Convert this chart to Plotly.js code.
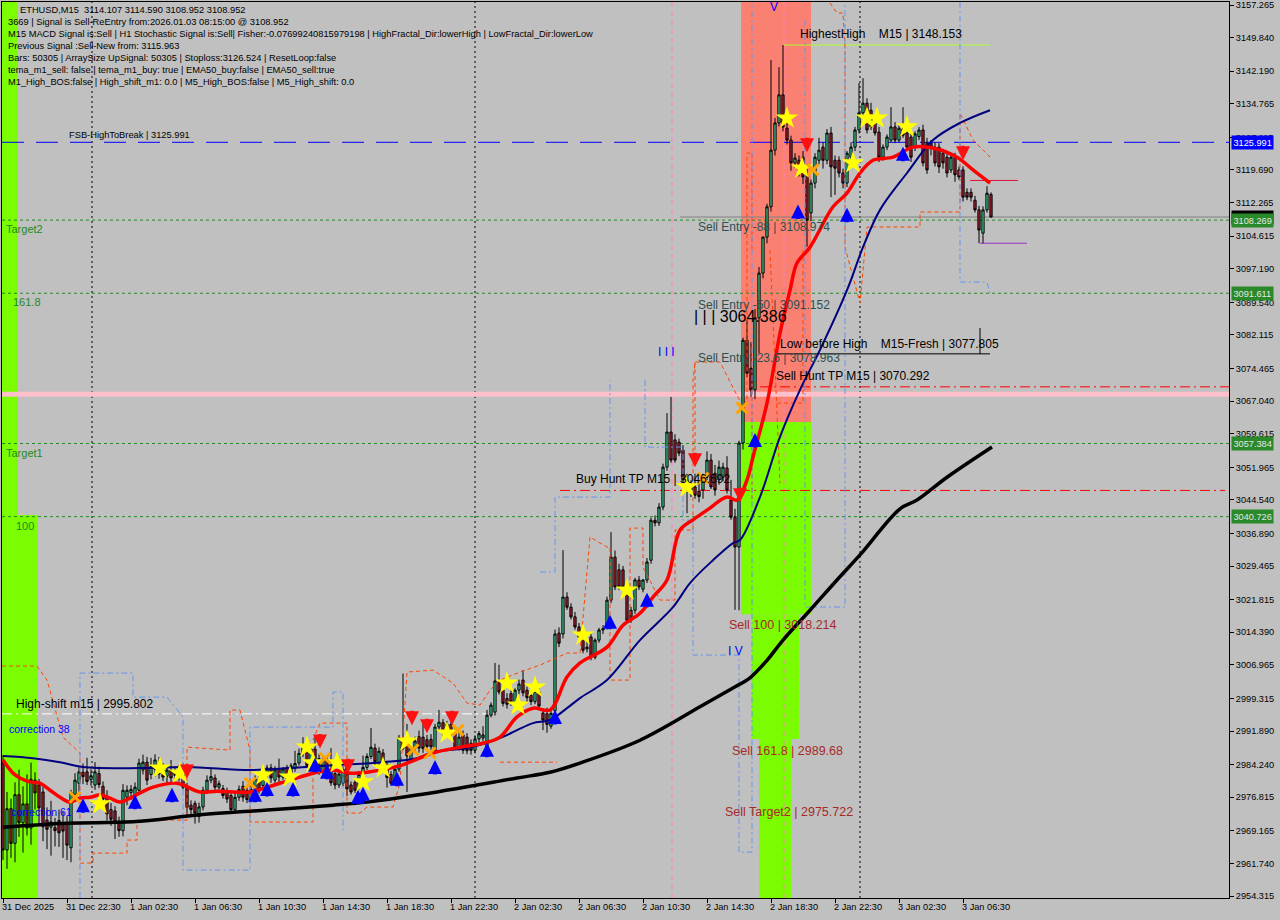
<!DOCTYPE html>
<html><head><meta charset="utf-8">
<script src="https://cdn.plot.ly/plotly-3.0.1.min.js"></script>
<style>html,body{margin:0;padding:0;background:#c0c0c0;}#chart{width:1280px;height:920px;}</style>
</head><body><div id="chart"></div>
<script>
// ===== DATA =====
const barOpen = [
2984.6,2964.8,2974.2,2966.3,2977.4,2971.0,2975.3,2969.8,2980.7,2979.6,
2978.0,2971.6,2970.0,2969.9,2971.5,2970.6,2970.8,2965.3,2977.5,2980.0,
2982.5,2982.6,2980.8,2979.6,2982.2,2979.3,2977.0,2974.0,2973.7,2971.0,
2969.2,2976.8,2977.9,2976.9,2978.4,2983.0,2984.8,2982.0,2983.2,2983.5,
2983.0,2981.6,2983.0,2982.4,2981.8,2983.0,2979.3,2975.0,2975.4,2972.4,
2974.6,2978.4,2980.7,2981.2,2979.1,2978.8,2978.2,2977.2,2974.0,2976.8,
2979.3,2978.4,2976.1,2978.6,2981.0,2979.5,2982.0,2983.5,2980.7,2983.3,
2981.4,2983.6,2980.9,2983.4,2984.6,2986.8,2988.2,2984.6,2987.8,2985.6,
2982.5,2985.3,2983.0,2982.2,2979.6,2980.0,2983.5,2979.6,2980.2,2979.0,
2982.0,2983.6,2986.1,2988.0,2984.7,2986.9,2984.3,2982.0,2980.4,2983.2,
2990.1,2988.6,2985.2,2988.0,2990.6,2990.5,2989.9,2990.0,2987.5,2992.8,
2993.8,2991.0,2993.4,2991.6,2988.2,2991.0,2990.5,2989.1,2987.5,2990.1,
2990.3,2988.0,2995.5,2996.2,3003.1,3001.2,2999.3,3000.4,2998.2,3001.2,
3003.5,3001.2,3000.0,2998.6,3000.9,2996.0,2995.8,2993.0,2996.5,3014.2,
3014.0,3022.4,3020.1,3017.9,3015.6,3013.3,3010.6,3013.3,3008.7,3012.6,
3014.9,3015.6,3021.7,3031.5,3028.6,3028.6,3024.7,3019.4,3019.4,3026.3,
3024.2,3026.3,3030.8,3039.9,3039.3,3042.9,3052.0,3060.0,3058.2,3057.7,
3055.9,3049.1,3046.8,3047.5,3046.5,3046.8,3049.7,3053.6,3050.6,3049.1,
3049.7,3051.8,3044.5,3040.6,3033.8,3057.5,3080.9,3074.5,3069.6,3086.0,
3096.2,3104.4,3111.3,3124.2,3130.4,3136.8,3129.2,3126.5,3121.3,3121.9,
3122.6,3119.0,3109.9,3116.7,3121.9,3124.9,3121.9,3128.1,3121.9,3121.9,
3119.0,3116.7,3122.6,3124.9,3128.8,3132.7,3134.9,3133.3,3130.4,3128.3,
3122.6,3124.9,3126.5,3129.5,3126.5,3129.0,3128.1,3127.2,3124.9,3127.3,
3128.8,3125.8,3125.8,3124.9,3124.9,3123.5,3122.6,3119.7,3122.6,3119.7,
3119.7,3114.6,3114.6,3112.8,3110.6,3105.3,3110.6,3114.107];
const barHigh = [
2986.4,2978.0,2976.5,2980.2,2983.1,2979.3,2982.0,2984.7,2982.5,2981.0,
2979.2,2974.5,2976.0,2972.1,2974.0,2973.6,2972.5,2978.5,2982.3,2984.0,
2984.5,2985.8,2983.2,2984.8,2983.8,2980.4,2978.4,2975.5,2974.8,2972.4,
2979.8,2979.5,2979.6,2980.2,2985.6,2986.5,2986.0,2985.8,2986.6,2986.0,
2984.6,2984.0,2985.3,2983.8,2984.2,2984.5,2980.1,2976.1,2976.0,2975.6,
2979.2,2981.8,2983.4,2982.0,2980.6,2979.6,2979.0,2978.0,2977.8,2979.5,
2980.5,2979.2,2979.4,2981.8,2981.9,2983.2,2984.2,2984.4,2983.9,2985.6,
2983.7,2984.2,2984.6,2987.4,2987.9,2990.5,2989.0,2988.8,2990.5,2986.6,
2986.1,2986.0,2988.0,2983.0,2982.9,2983.9,2984.3,2980.4,2981.0,2982.8,
2986.3,2986.8,2992.6,2989.0,2988.2,2987.8,2985.0,2982.8,2984.0,2991.0,
3005.0,2993.5,2988.9,2990.6,2992.0,2993.8,2991.0,2991.2,2993.5,2996.7,
2994.6,2994.2,2994.4,2992.5,2991.6,2992.0,2991.4,2990.0,2990.9,2991.9,
2993.0,2996.7,2998.4,3007.4,3007.0,3002.0,3000.5,3001.8,3001.6,3003.6,
3005.8,3002.0,3001.0,3002.0,3002.3,2997.0,2997.2,2996.6,3015.0,3015.5,
3033.1,3023.5,3021.0,3019.0,3016.5,3014.5,3012.5,3014.0,3013.0,3015.4,
3016.0,3022.5,3037.2,3033.0,3030.0,3029.5,3025.8,3020.2,3026.8,3027.2,
3026.5,3031.3,3040.5,3041.0,3043.8,3052.8,3064.3,3068.0,3059.5,3058.5,
3057.0,3050.5,3049.0,3050.5,3049.0,3050.5,3055.6,3055.0,3052.5,3053.5,
3053.0,3054.5,3049.1,3042.5,3058.0,3081.5,3085.5,3080.5,3088.0,3097.6,
3104.5,3112.0,3144.7,3131.5,3143.1,3148.153,3131.0,3127.5,3123.5,3123.0,
3124.0,3121.0,3117.5,3123.5,3127.0,3126.0,3129.0,3129.5,3123.0,3122.8,
3120.0,3124.0,3126.0,3129.5,3139.5,3140.6,3136.0,3135.0,3131.5,3129.5,
3125.5,3127.8,3134.0,3130.6,3130.0,3134.0,3129.0,3128.0,3128.5,3129.5,
3130.0,3127.0,3126.5,3126.0,3125.8,3124.5,3123.5,3123.5,3123.6,3120.5,
3120.5,3115.5,3115.5,3113.8,3111.5,3111.4,3116.0,3114.590];
const barLow = [
2962.5,2960.5,2963.0,2962.0,2967.8,2964.2,2968.1,2966.0,2974.0,2970.5,
2966.8,2965.0,2963.5,2965.6,2965.5,2963.0,2962.5,2962.0,2976.0,2978.0,
2979.8,2979.6,2979.4,2978.5,2978.9,2975.6,2971.5,2970.3,2967.3,2967.8,
2967.9,2975.0,2976.2,2975.8,2977.3,2982.0,2979.6,2980.9,2981.5,2981.0,
2980.5,2980.0,2980.2,2980.9,2980.4,2978.6,2972.8,2972.5,2970.8,2971.0,
2973.8,2977.6,2980.0,2978.0,2978.2,2976.5,2975.5,2973.2,2973.3,2976.0,
2975.8,2975.5,2975.6,2978.0,2977.6,2979.0,2981.0,2980.1,2980.0,2980.2,
2980.8,2980.0,2980.3,2982.6,2984.0,2986.0,2983.7,2983.9,2983.2,2981.9,
2982.0,2980.9,2979.4,2978.6,2978.9,2979.3,2977.1,2977.4,2977.8,2978.5,
2981.6,2983.0,2985.5,2984.0,2984.1,2983.5,2979.0,2979.6,2979.8,2982.6,
2987.5,2978.0,2984.6,2987.2,2987.0,2986.9,2988.0,2987.6,2987.0,2992.0,
2990.6,2990.4,2990.2,2987.6,2987.4,2986.7,2986.6,2986.5,2986.8,2989.3,
2989.5,2987.1,2995.0,2995.4,3000.2,2997.5,2997.0,2997.6,2997.4,3000.3,
2999.8,2998.5,2997.8,2998.0,2996.9,2992.1,2991.5,2992.4,2995.5,3011.0,
3013.0,3019.5,3017.3,3015.0,3012.5,3009.6,3009.8,3008.0,3008.2,3012.0,
3014.0,3015.0,3021.0,3024.0,3024.0,3024.2,3016.5,3016.5,3018.6,3024.0,
3023.5,3025.6,3030.0,3038.5,3038.6,3042.2,3051.2,3053.0,3053.0,3054.5,
3048.5,3041.5,3045.2,3044.8,3044.0,3044.8,3049.0,3047.0,3045.5,3048.0,
3048.8,3046.0,3040.0,3019.5,3019.4,3056.0,3072.5,3068.0,3067.5,3078.0,
3095.0,3103.0,3110.2,3123.0,3129.6,3128.5,3125.5,3119.5,3120.2,3118.2,
3116.5,3102.2,3108.0,3115.5,3121.0,3120.0,3121.0,3113.5,3114.0,3118.0,
3115.5,3115.8,3122.0,3124.0,3128.0,3131.8,3128.0,3128.8,3127.5,3121.5,
3121.8,3124.2,3126.0,3125.8,3126.0,3127.0,3124.5,3121.5,3124.0,3126.5,
3120.5,3118.8,3123.0,3120.5,3119.0,3120.0,3118.0,3119.0,3117.0,3117.4,
3112.5,3112.8,3112.5,3110.0,3103.0,3103.0,3110.0,3108.952];
const barClose = [
2964.8,2974.2,2966.3,2977.4,2971.0,2975.3,2969.8,2980.9,2977.8,2974.4,
2970.1,2969.5,2971.2,2969.2,2968.7,2969.1,2965.9,2977.9,2980.7,2982.6,
2981.5,2980.4,2981.7,2982.6,2979.7,2976.4,2973.0,2971.8,2971.2,2969.2,
2978.4,2978.4,2978.6,2979.1,2984.6,2984.8,2980.7,2983.8,2985.3,2982.1,
2981.4,2983.0,2981.2,2981.8,2983.1,2979.1,2974.5,2974.0,2973.2,2974.6,
2978.4,2980.7,2981.5,2979.1,2979.9,2977.2,2976.4,2974.0,2976.8,2978.6,
2976.8,2976.3,2978.6,2981.0,2978.6,2982.5,2983.5,2981.2,2983.0,2981.4,
2983.2,2980.9,2984.0,2984.5,2986.8,2988.2,2984.0,2987.8,2984.1,2983.2,
2985.3,2981.7,2980.1,2979.6,2982.1,2983.2,2978.7,2978.0,2978.4,2982.0,
2983.6,2986.1,2988.2,2984.9,2987.3,2984.4,2981.3,2980.0,2983.2,2990.4,
2988.0,2986.2,2988.0,2989.6,2988.0,2987.9,2988.4,2988.3,2992.8,2993.9,
2991.3,2993.4,2991.1,2988.2,2990.5,2987.5,2987.4,2987.5,2990.1,2991.3,
2991.0,2995.5,2997.8,3003.3,3000.8,2998.2,2998.0,2998.5,3001.2,3002.6,
3000.6,2999.5,2998.6,3000.9,2997.6,2994.4,2993.4,2995.9,3014.0,3011.9,
3022.4,3020.1,3017.9,3015.6,3013.3,3010.3,3011.0,3008.7,3012.6,3014.9,
3015.2,3021.7,3031.5,3024.7,3024.7,3024.7,3017.1,3017.1,3026.3,3024.7,
3026.3,3030.4,3039.9,3039.3,3042.9,3052.0,3060.0,3053.6,3053.6,3055.2,
3049.1,3046.8,3047.5,3045.6,3045.3,3049.7,3053.6,3047.5,3046.8,3052.0,
3052.0,3046.8,3040.6,3033.8,3057.5,3080.9,3073.4,3069.6,3086.0,3096.2,
3104.4,3111.3,3124.2,3130.4,3136.8,3129.5,3126.5,3121.3,3122.4,3119.0,
3118.1,3108.3,3116.7,3122.6,3124.2,3121.9,3128.1,3120.4,3120.1,3119.0,
3116.7,3123.5,3124.9,3128.8,3132.7,3134.9,3128.8,3129.5,3128.1,3122.6,
3124.9,3127.2,3129.5,3126.5,3129.2,3127.6,3124.9,3122.6,3127.9,3128.8,
3121.3,3119.7,3124.9,3121.3,3120.4,3121.3,3119.0,3122.6,3118.6,3118.1,
3113.5,3113.5,3113.5,3110.6,3106.0,3110.6,3114.4,3108.952];

// moving averages (bar index, price)
const redMaBar = [0,2.5,4.25,6.75,9.25,11.75,14.25,16.75,19.25,21.75,24.25,26.75,29.25,31.75,34.25,37.5,43.5,49.25,53.5,61.75,66,71.75,78.5,82.5,86.75,91,99.25,107.5,114.25,120,124.25,128.5,132.5,136.75,141,144.25,151,155,159.25,162.5,166,169.25,172.5,176,181,183.5,186,187.5,191,194.25,196.75,198.5,201.75,207.5,211,214.25,217.5,222.5,227.5,232.5,238.5,242.5,246.75];
const redMaValue = [2985.3,2982.3,2981.2,2980.3,2980.0,2978.4,2976.8,2975.7,2976.6,2976.8,2977.3,2976.6,2975.7,2976.6,2977.8,2979.1,2980.0,2978.0,2978.2,2978.0,2979.1,2980.7,2982.5,2983.0,2982.3,2982.5,2984.0,2986.9,2988.2,2989.1,2990.5,2995.1,2997.1,2996.7,3004.2,3007.4,3011.0,3016.0,3018.7,3022.4,3026.3,3037.7,3040.0,3042.2,3045.2,3044.5,3049.1,3054.3,3066.6,3082.5,3092.3,3098.5,3102.1,3111.3,3114.4,3119.0,3121.9,3122.6,3124.9,3124.7,3122.6,3119.7,3116.7];
const navyMaBar = [0,7.5,14.25,20,34.25,46,61.75,71.75,82.5,95,103.5,107.5,116,124.25,128.5,132.5,136.75,141,144.25,151,159.25,167.5,171.75,177.5,182.5,184.25,189.25,194.25,199.25,204.25,211,215,219.25,226,232.5,239.25,246.75];
const navyMaValue = [2986.2,2985.7,2984.8,2983.7,2983.45,2983.7,2983.0,2983.45,2984.1,2984.8,2985.7,2987.1,2988.0,2990.3,2992.1,2993.7,2994.4,2997.1,2999.4,3003.5,3012.6,3020.1,3025.6,3030.8,3034.7,3035.4,3045.2,3058.9,3069.6,3078.7,3092.3,3102.1,3110.6,3119.0,3126.5,3130.4,3133.3];
const blackMaBar = [0,16,32.5,49.25,66,82.5,91,103.5,128.5,136.75,144.25,159.25,174.25,182.5,186.75,191,195,201.75,208.5,214.25,224.25,228.5,236,247.25];
const blackMaValue = [2970.0,2970.9,2971.2,2972.8,2973.9,2975.0,2975.7,2977.3,2981.2,2982.5,2984.6,2989.8,2997.4,3001.7,3004.0,3008.0,3012.6,3019.4,3026.3,3032.0,3042.5,3044.5,3049.7,3056.6];

// stepped channel lines (orange = fractal band, blue = channel); null separates pieces
const orangeBandBar = [-0.25,8.5,11,15,19.25,19.25,22.5,22.5,31,31,33.5,33.5,46,46,56.75,56.75,59.25,61.75,61.75,77.5,77.5,79.25,86,86,89.25,91,97.5,99.25,101,107.5,112.5,116,119.25,121.75,124.25,129.25,134.25,141,144.25,146.75,151,151.75,151.75,156.75,156.75,160,160,164.25,168,168,172.5,172.5,173,179.25,185,186,186,187.25,187.25,null,
  191.75,194.25,null,193.5,200,200,null,173,173,null,187.25,187.25,null,206.75,208.5,210,210.5,210.5,214.25,216,229.25,229.25,239.25,239.25,242.5,246.75,null,124.25,138.5];
const orangeBandPrice = [3006.69,3006.69,3003.5,2990.51,2986.87,2961.81,2961.81,2964.09,2964.09,2967.05,2967.05,2971.6,2971.6,2988.23,2987.55,2996.66,2996.66,2987.55,2971.15,2971.15,2989.83,2993.7,2993.7,2973.2,2973.2,2974.57,2974.57,2980.03,3005.32,3005.77,3002.81,2998.26,2997.8,3001.22,3003.5,3005.32,3006.91,3009.65,3009.65,3036.07,3033.79,3033.79,3003.5,3003.5,3038.12,3038.12,3029.24,3021.72,3021.72,3037.67,3037.67,3071.84,3075.94,3075.94,3065.69,3067.28,3123.55,3123.55,3101.45,null,
  3101.45,3048.37,null,3066.6,3066.6,3101.45,null,3075.94,3054.3,null,3071.15,3044.5,null,3157.72,3155.44,3155.44,3147.69,3102.13,3089.38,3106.69,3106.69,3110.11,3110.11,3132.66,3126.51,3122.64,null,2984.8,2984.8];
const blueChannelBar = [19.25,19.25,32.5,32.5,41,45,45,61.75,61.75,82.5,82.5,85,85,null,
  134.25,138,138,151.75,151.75,null,
  160.5,160.5,170,170,172.5,172.5,184,184,187.25,187.25,null,
  200.5,200.5,210.5,210.5,null,239.25,239.25,246,246.75];
const blueChannelPrice = [2953.9,3005.09,3005.09,2999.62,2999.62,2995.07,2960.21,2960.21,2992.79,2992.79,3000.76,3000.76,2969.33,null,
  3028.1,3028.1,3045.18,3045.18,3071.84,null,
  3071.84,3056.57,3056.57,3039.94,3039.94,3009.19,3009.19,2964.31,2964.31,3158,null,
  3153.84,3020.13,3020.13,3158,null,3158,3094.16,3094.16,3091.65];

// signal markers
const starBar = [24.25,39.25,44.25,65,71.75,76,77.5,83.5,90,95,101,111,126,128.75,133,145,156,171,196,199.75,212.5,216,218.5,226];
const starPrice = [2975.3,2983.45,2982.3,2981.85,2981.4,2988.2,2984.6,2984.6,2980.3,2983.45,2989.6,2991.4,3002.8,2997.8,3001.9,3013.75,3024.0,3047.5,3131.5,3120.1,3121.3,3131.5,3131.5,3129.5];
const upArrowBar = [20,33,42.25,63,66,72.5,78,81,88.75,90,98.5,108,121,138,151.75,161,188,198.75,211,225];
const upArrowPrice = [2976.6,2977.4,2979.0,2979.0,2980.3,2980.3,2985.8,2984.2,2978.5,2979.2,2982.6,2985.3,2989.2,2996.7,3018.4,3023.4,3059.8,3111.8,3111.1,3125.0];
const downArrowBar = [46,79.25,86.25,102.25,106,112.25,173,184.25,201,240];
const downArrowPrice = [2981.1,2987.9,2982.3,2993.2,2991.4,2993.2,3052.0,3044.0,3123.7,3121.9];
const crossBar = [18,61.75,80.5,102.5,106.75,113.75,175,184.75,202.5];
const crossPrice = [2976.8,2980.0,2985.7,2987.6,2986.9,2992.1,3049.5,3065.5,3119.7];

// axis ticks
const yTicks = [3157.265,3149.840,3142.190,3134.765,3127.115,3119.690,3112.265,3104.615,3097.190,3089.540,3082.115,3074.465,3067.040,3059.615,3051.965,3044.540,3036.890,3029.465,3021.815,3014.390,3006.965,2999.315,2991.890,2984.240,2976.815,2969.165,2961.740,2954.315];
const xTickBars = [0,16,32,48,64,80,96,112,128,144,160,176,192,208,224,240];
const xTickLabels = ['31 Dec 2025','31 Dec 22:30','1 Jan 02:30','1 Jan 06:30','1 Jan 10:30','1 Jan 14:30','1 Jan 18:30','1 Jan 22:30','2 Jan 02:30','2 Jan 06:30','2 Jan 10:30','2 Jan 14:30','2 Jan 18:30','2 Jan 22:30','3 Jan 02:30','3 Jan 06:30'];

// price levels
const levelFsb = 3125.991;
const levelTarget2 = 3108.269;
const level1618 = 3091.611;
const levelTarget1 = 3057.384;
const level100 = 3040.726;
const levelCurrent = 3108.952;
const levelSellEntry88 = 3108.974;
const levelSellEntry50 = 3091.152;
const levelSellEntry236 = 3078.963;
const levelBuyHunt = 3046.692;
const levelSellHunt = 3070.292;
const levelPink = 3068.6;
const levelLowBeforeHigh = 3077.805;
const levelHighestHigh = 3148.153;
const levelHighShift = 2995.802;
const levelSell100 = 3018.214;
const levelSell1618 = 2989.68;
const levelSellTarget2 = 2975.722;
const levelZoneTop = 3062.28;
const levelZoneMid = 3018.5;
const levelZoneLow = 2990.1;
const levelLeftZone = 3041.1;
const levelRedShort = 3117.3;
const levelPurpleShort = 3103.0;
const levelBarsText = 3086.4;

const headerLines = [
 'ETHUSD,M15  3114.107 3114.590 3108.952 3108.952',
 '3669 | Signal is Sell-ReEntry from:2026.01.03 08:15:00 @ 3108.952',
 'M15 MACD Signal is:Sell | H1 Stochastic Signal is:Sell| Fisher:-0.07699240815979198 | HighFractal_Dir:lowerHigh | LowFractal_Dir:lowerLow',
 'Previous Signal :Sell-New from: 3115.963',
 'Bars: 50305 | ArraySize UpSignal: 50305 | Stoploss:3126.524 | ResetLoop:false',
 'tema_m1_sell: false | tema_m1_buy: true | EMA50_buy:false | EMA50_sell:true',
 'M1_High_BOS:false | High_shift_m1: 0.0 | M5_High_BOS:false | M5_High_shift: 0.0'
];

// ===== BUILD =====
const Y0 = 2953.86, Y1 = 3157.95;
const X0 = -0.25, X1 = 306.5;
const FONT = 'Liberation Sans, Arial, sans-serif';
const barIndex = barClose.map((_, i) => i);
const NB = '\u00a0';

const traces = [];
traces.push({type:'scatter', mode:'lines', x:orangeBandBar, y:orangeBandPrice, connectgaps:false, line:{color:'#ff4500', width:1, dash:'4px,3px'}, hoverinfo:'skip'});
traces.push({type:'scatter', mode:'lines', x:blueChannelBar, y:blueChannelPrice, connectgaps:false, line:{color:'#6495ed', width:1, dash:'6px,3px,2px,3px'}, hoverinfo:'skip'});
traces.push({type:'scatter', mode:'lines', x:blackMaBar, y:blackMaValue, line:{color:'#000000', width:3.5, shape:'spline'}, hoverinfo:'skip'});
traces.push({type:'candlestick', x:barIndex, open:barOpen, high:barHigh, low:barLow, close:barClose,
  increasing:{line:{color:'#000000', width:1}, fillcolor:'#3ccf8e'},
  decreasing:{line:{color:'#000000', width:1}, fillcolor:'#b02030'},
  whiskerwidth:0, hoverinfo:'skip'});
traces.push({type:'scatter', mode:'lines', x:navyMaBar, y:navyMaValue, line:{color:'#000080', width:2, shape:'spline'}, hoverinfo:'skip'});
traces.push({type:'scatter', mode:'lines', x:redMaBar, y:redMaValue, line:{color:'#ff0000', width:3.5, shape:'spline'}, hoverinfo:'skip'});
traces.push({type:'scatter', mode:'markers', x:starBar, y:starPrice, marker:{symbol:'star', size:17, color:'#ffff00', line:{width:0}}, hoverinfo:'skip'});
traces.push({type:'scatter', mode:'markers', x:crossBar, y:crossPrice, marker:{symbol:'x-thin', size:11, color:'#ffa500', line:{width:3, color:'#ffa500'}}, hoverinfo:'skip'});

const shapes = [];
function rect(x0,x1,y0,y1,color){ shapes.push({type:'rect', xref:'x', yref:'y', x0, x1, y0, y1, fillcolor:color, line:{width:0}, layer:'below'}); }
function hline(y, x0, x1, color, width, dash){
  shapes.push({type:'line', xref:'x', yref:'y', x0, x1, y0:y, y1:y, line:{color, width, dash:dash||'solid'}, layer:'below'});
}
function vline(x, color, dash, y0, y1){
  shapes.push({type:'line', xref:'x', yref:'y', x0:x, x1:x, y0:(y0===undefined?Y0:y0), y1:(y1===undefined?Y1:y1), line:{color, width:1, dash}, layer:'below'});
}
// zones
rect(X0, 3.75, Y0, Y1, '#7cfc00');
rect(X0, 8.75, Y0, levelLeftZone, '#7cfc00');
rect(184.5, 202, levelZoneTop, Y1, '#fa8072');
rect(184.5, 202, levelZoneMid, levelZoneTop, '#7cfc00');
rect(187.25, 199, levelZoneLow, levelZoneMid, '#7cfc00');
rect(189, 197, Y0, levelZoneLow, '#7cfc00');
// vertical separators
vline(22.25, '#000000', '2px,3px');
vline(118, '#000000', '2px,3px');
vline(214.25, '#000000', '2px,3px');
vline(167.25, '#ff80c0', '5px,4px');
vline(195.25, '#ff80c0', '5px,4px');
// levels
hline(levelPink, X0, X1, '#ffc0cb', 5, 'solid');
hline(levelFsb, X0, X1, '#0000ff', 1, '22px,12px');
hline(levelTarget2, X0, X1, '#228b22', 1, '3px,3px');
hline(level1618, X0, X1, '#228b22', 1, '3px,3px');
hline(levelTarget1, X0, X1, '#228b22', 1, '3px,3px');
hline(level100, X0, X1, '#228b22', 1, '3px,3px');
hline(levelSellEntry88, 169.25, X1, '#808080', 1, 'solid');
hline(levelBuyHunt, 139.25, 305.5, '#ff0000', 1, '10px,4px,2px,4px');
hline(levelSellHunt, 189.25, X1, '#ff0000', 1, '10px,4px,2px,4px');
hline(levelLowBeforeHigh, 193, 246.75, '#000000', 1, 'solid');
hline(levelHighestHigh, 195, 246.75, '#adff2f', 1, 'solid');
hline(levelHighShift, X0, 121, '#ffffff', 1, '10px,4px,2px,4px');
hline(levelRedShort, 241.75, 253.75, '#dc143c', 1, 'solid');
hline(levelPurpleShort, 244.25, 256, '#9932cc', 1, 'solid');
vline(244.25, '#000000', 'solid', levelLowBeforeHigh, 3083.7);

const annotations = [];
// signal arrows (head at the signal price)
upArrowBar.forEach((b, k) => annotations.push({x:b, y:upArrowPrice[k], xref:'x', yref:'y', text:'', showarrow:true, ax:0, ay:16,
  arrowhead:2, arrowsize:0.8, arrowwidth:3.5, arrowcolor:'#0000ff', standoff:0}));
downArrowBar.forEach((b, k) => annotations.push({x:b, y:downArrowPrice[k], xref:'x', yref:'y', text:'', showarrow:true, ax:0, ay:-16,
  arrowhead:2, arrowsize:0.8, arrowwidth:3.5, arrowcolor:'#ff1010', standoff:0}));

function txt(text, x, y, size, color, yanchor, extra){
  annotations.push(Object.assign({text, x, y, xref:'x', yref:'y', xanchor:'left', yanchor:yanchor||'middle', showarrow:false,
    font:{family:FONT, size, color}, borderpad:0}, extra||{}));
}
// header
headerLines.forEach((t, k) => {
  annotations.push({text:t, xref:'paper', yref:'paper', x:0, y:1, xanchor:'left', yanchor:'middle', showarrow:false,
    xshift: (k===0?17:5), yshift: -(8 + 12*k), font:{family:FONT, size:9.3, color:'#000000'}, borderpad:0});
});
// x-axis labels (MT4 style: left aligned at the tick)
xTickBars.forEach((b, k) => {
  annotations.push({text:xTickLabels[k], xref:'x', yref:'paper', x:b, y:0, xanchor:'left', yanchor:'top', yshift:-3, xshift:-2,
    showarrow:false, font:{family:FONT, size:9.2, color:'#000000'}, borderpad:0});
});
// level texts
txt('FSB-HighToBreak | ' + levelFsb.toFixed(3), 16.25, levelFsb, 9.3, '#000000', 'bottom', {yshift:1});
txt('Target2', 0.5, levelTarget2, 11, '#228b22', 'top', {yshift:-2});
txt('161.8', 2.25, level1618, 11, '#228b22', 'top', {yshift:-2});
txt('Target1', 0.5, levelTarget1, 11, '#228b22', 'top', {yshift:-2});
txt('100', 3, level100, 11, '#228b22', 'top', {yshift:-2});
txt('High-shift m15 | ' + levelHighShift.toFixed(3), 3, levelHighShift, 12, '#000000', 'bottom', {yshift:2});
txt('correction 38', 1.25, 2992.4, 10.5, '#0000ff');
txt('correction 61', 1.75, 2973.5, 10.5, '#0000ff');
txt('Sell Entry -88 | ' + levelSellEntry88.toFixed(3), 173.5, levelSellEntry88, 12, '#2f4f4f', 'top', {yshift:-2});
txt('Sell Entry -50 | ' + levelSellEntry50.toFixed(3), 173.5, levelSellEntry50, 12, '#2f4f4f', 'top', {yshift:-2});
txt('Sell Entry -23.6 | ' + levelSellEntry236.toFixed(3), 173.5, levelSellEntry236, 12, '#2f4f4f', 'top', {yshift:-1});
txt('| | | 3064.386', 172.5, levelBarsText, 16, '#000000');
txt('I I I', 163.5, 3078.2, 12, '#0000ff');
txt('I V', 181, 3010.1, 12, '#0000ff');
txt('V', 191.5, 3156.9, 12, '#0000ff');
txt('Low before High' + NB+NB+NB+NB + 'M15-Fresh | ' + levelLowBeforeHigh.toFixed(3), 194, levelLowBeforeHigh, 12, '#000000', 'bottom', {yshift:2});
txt('Sell Hunt TP M15 | ' + levelSellHunt.toFixed(3), 193, levelSellHunt, 12, '#000000', 'bottom', {yshift:3});
txt('HighestHigh' + NB+NB+NB+NB + 'M15 | ' + levelHighestHigh.toFixed(3), 199, levelHighestHigh, 12, '#000000', 'bottom', {yshift:3});
txt('Buy Hunt TP M15 | ' + levelBuyHunt.toFixed(3), 143, levelBuyHunt, 12, '#000000', 'bottom', {yshift:3});
txt('Sell 100 | ' + levelSell100.toFixed(3), 181.25, levelSell100, 12.5, '#a52a2a', 'top', {yshift:-2});
txt('Sell 161.8 | ' + levelSell1618.toFixed(2), 182, levelSell1618, 12.5, '#a52a2a', 'top', {yshift:-2});
txt('Sell Target2 | ' + levelSellTarget2.toFixed(3), 180.25, levelSellTarget2, 12.5, '#a52a2a', 'top', {yshift:-2});
// price boxes on the axis
function box(price, bg, fg){
  annotations.push({text:price.toFixed(3), xref:'paper', yref:'y', x:1, y:price, xanchor:'left', yanchor:'middle', xshift:2,
    showarrow:false, bgcolor:bg, borderpad:1.5, font:{family:FONT, size:9.2, color:fg}});
}
box(levelFsb, '#0000ff', '#ffffff');
box(levelCurrent, '#000000', '#000000');
box(levelTarget2, '#2a8a2a', '#e6e6e6');
box(level1618, '#2a8a2a', '#e6e6e6');
box(levelTarget1, '#2a8a2a', '#e6e6e6');
box(level100, '#2a8a2a', '#e6e6e6');

const layout = {
  width:1280, height:920, paper_bgcolor:'#c0c0c0', plot_bgcolor:'#c0c0c0',
  margin:{l:2, r:51, t:2, b:22, pad:0}, showlegend:false, boxgap:0.2,
  font:{family:FONT, size:9.2, color:'#000000'},
  xaxis:{range:[X0, X1], tickvals:xTickBars, ticktext:xTickBars.map(()=>''), ticks:'outside', ticklen:4, tickcolor:'#000',
    showline:true, linecolor:'#000', linewidth:1, mirror:true, showgrid:false, zeroline:false, rangeslider:{visible:false}, fixedrange:true},
  yaxis:{side:'right', range:[Y0, Y1], tickvals:yTicks, ticktext:yTicks.map(v=>v.toFixed(3)), ticks:'outside', ticklen:4, tickcolor:'#000',
    showline:true, linecolor:'#000', linewidth:1, mirror:true, showgrid:false, zeroline:false, fixedrange:true,
    tickfont:{family:FONT, size:9.2, color:'#000'}},
  shapes, annotations, hovermode:false
};
Plotly.newPlot('chart', traces, layout, {staticPlot:true, displayModeBar:false});
</script></body></html>
